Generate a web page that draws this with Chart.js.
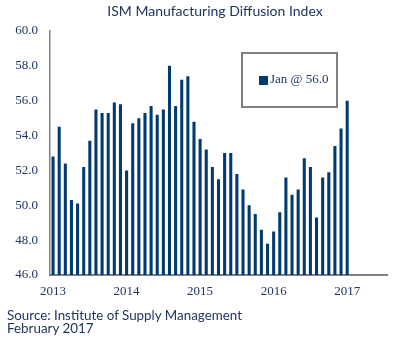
<!DOCTYPE html>
<html>
<head>
<meta charset="utf-8">
<script src="https://cdn.jsdelivr.net/npm/chart.js@4/dist/chart.umd.min.js"></script>
<style>
  body { margin: 0; background: #fff; }
  #wrap { position: relative; width: 404px; height: 346px; overflow: hidden; }
  #chart { position: absolute; left: 0; top: 0; }
  .title {
    position: absolute; left: 0; width: 430px; top: 2px; text-align: center;
    font: 14px Lato, sans-serif; color: #1f3560;
  }
  .source {
    position: absolute; left: 7px; top: 309px;
    font: 13.4px Lato, sans-serif; line-height: 13px; color: #1f3560;
  }
  .legend {
    position: absolute; left: 241px; top: 52px; width: 97px; height: 56px;
    box-sizing: border-box; border: 2px solid #808080;
  }
  .legend .swatch {
    position: absolute; left: 16px; top: 22px; width: 9px; height: 9px; background: #003a70;
  }
  .legend .text {
    position: absolute; left: 27px; top: 17px;
    font: 13px "Liberation Serif", serif; color: #1f3560;
  }
</style>
</head>
<body>
<div id="wrap">
  <canvas id="chart" width="404" height="346"></canvas>
  <div class="title">ISM Manufacturing Diffusion Index</div>
  <div class="legend"><div class="swatch"></div><div class="text" id="legendText"></div></div>
  <div class="source">Source: Institute of Supply Management<br>February 2017</div>
</div>
<script>
// Monthly ISM index, Jan 2013 .. Jan 2017
const years = [2013, 2014, 2015, 2016, 2017];
const monthNames = ['Jan', 'Feb', 'Mar', 'Apr', 'May', 'Jun', 'Jul', 'Aug', 'Sep', 'Oct', 'Nov', 'Dec'];
const values = [
  52.8, 54.5, 52.4, 50.3, 50.1, 52.2, 53.7, 55.5, 55.3, 55.3, 55.9, 55.8,
  52.0, 54.7, 55.0, 55.3, 55.7, 55.2, 55.5, 58.0, 55.7, 57.2, 57.4, 54.8,
  53.8, 53.2, 52.2, 51.5, 53.0, 53.0, 51.8, 50.9, 50.0, 49.5, 48.6, 47.8,
  48.5, 49.6, 51.6, 50.6, 50.9, 52.7, 52.2, 49.3, 51.6, 51.9, 53.4, 54.4,
  56.0,
];
const slotCount = 55; // axis runs on past the last bar, to mid 2017
const yTicks = [46, 48, 50, 52, 54, 56, 58, 60];

// one category per month, labelled only in January
const categories = [];
for (let i = 0; i < slotCount; i++) {
  const year = years[0] + Math.floor(i / 12);
  categories.push(i % 12 === 0 ? String(year) : '');
}
const data = categories.map((c, i) => (i < values.length ? values[i] : null));

const last = values.length - 1;
document.getElementById('legendText').textContent =
  monthNames[last % 12] + ' @ ' + values[last].toFixed(1);

const tickFont = { family: 'Liberation Serif', size: 13 };
const tickColor = '#1f3560';

new Chart(document.getElementById('chart'), {
  type: 'bar',
  data: {
    labels: categories,
    datasets: [{
      data: data,
      backgroundColor: '#003a70',
      barPercentage: 0.5,
      categoryPercentage: 1,
    }],
  },
  options: {
    responsive: false,
    animation: false,
    layout: { padding: { top: 31, right: 17, bottom: 0, left: 0 } },
    plugins: { legend: { display: false }, tooltip: { enabled: false } },
    scales: {
      x: {
        grid: { display: false, drawTicks: false },
        border: { display: true, color: '#808080', width: 2 },
        ticks: {
          autoSkip: false, maxRotation: 0, padding: 9,
          font: tickFont, color: tickColor,
        },
        afterFit: (s) => { s.height = 71; },
      },
      y: {
        min: 46, max: 60,
        grid: { display: false, drawTicks: false },
        border: { display: true, color: '#808080', width: 1.5 },
        afterBuildTicks: (s) => { s.ticks = yTicks.map((v) => ({ value: v })); },
        ticks: {
          padding: 12, font: tickFont, color: tickColor,
          callback: (v) => Number(v).toFixed(1),
        },
        afterFit: (s) => { s.width = 50; },
      },
    },
  },
});
</script>
</body>
</html>
